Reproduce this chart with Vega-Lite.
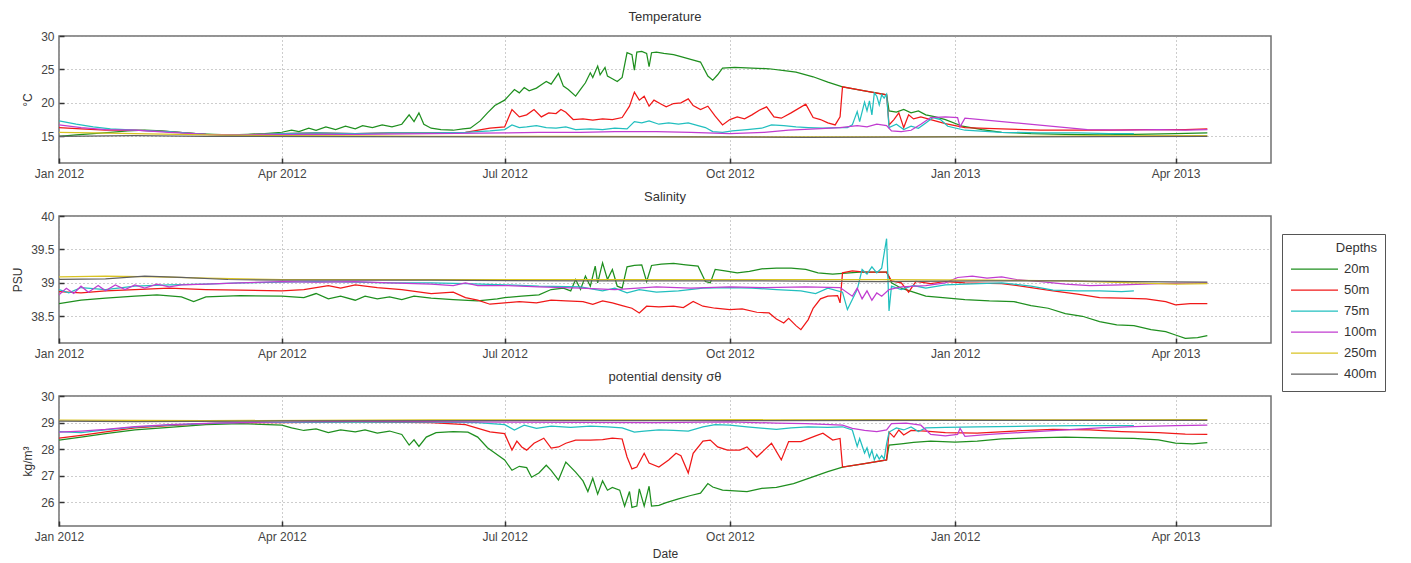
{
"$schema": "https://vega.github.io/schema/vega-lite/v6.json",
"background": "white",
"padding": {"left": 10, "top": 10, "right": 0, "bottom": 0},
"bounds": "flush",
"spacing": 53,
"resolve": {"scale": {"color": "independent"}},
"config": {
  "font": "Liberation Sans",
  "view": {"stroke": "#707070", "strokeWidth": 1.5},
  "axis": {"labelFont": "Liberation Sans", "labelFontSize": 12, "labelColor": "#444444", "titleFont": "Liberation Sans", "titleFontSize": 12, "titleFontWeight": "normal", "titleColor": "#333333", "grid": true, "gridColor": "#9a9a9a", "gridDash": [1, 3], "gridWidth": 1, "domain": false, "ticks": true, "tickSize": -5, "tickColor": "#333333", "tickWidth": 1.5, "labelPadding": 10, "titlePadding": 6},
  "title": {"fontSize": 13, "fontWeight": "normal", "color": "#333333", "font": "Liberation Sans", "offset": 6},
  "line": {"strokeWidth": 1.25}
},
"datasets": {
"T": [
{"t":"2012-01-01","z":"20m","v":15.0},{"t":"2012-01-08","z":"20m","v":15.2},{"t":"2012-01-15","z":"20m","v":15.4},{"t":"2012-01-22","z":"20m","v":15.6},{"t":"2012-01-29","z":"20m","v":15.8},{"t":"2012-02-05","z":"20m","v":15.9},{"t":"2012-02-12","z":"20m","v":15.8},{"t":"2012-02-19","z":"20m","v":15.6},{"t":"2012-02-26","z":"20m","v":15.4},{"t":"2012-03-04","z":"20m","v":15.3},{"t":"2012-03-11","z":"20m","v":15.2},{"t":"2012-03-18","z":"20m","v":15.3},{"t":"2012-03-25","z":"20m","v":15.4},{"t":"2012-04-01","z":"20m","v":15.6},{"t":"2012-04-05","z":"20m","v":15.9},{"t":"2012-04-08","z":"20m","v":15.7},{"t":"2012-04-12","z":"20m","v":16.2},{"t":"2012-04-15","z":"20m","v":15.9},{"t":"2012-04-19","z":"20m","v":16.4},{"t":"2012-04-23","z":"20m","v":16.0},{"t":"2012-04-27","z":"20m","v":16.5},{"t":"2012-05-01","z":"20m","v":16.1},{"t":"2012-05-04","z":"20m","v":16.6},{"t":"2012-05-08","z":"20m","v":16.3},{"t":"2012-05-12","z":"20m","v":16.7},{"t":"2012-05-16","z":"20m","v":16.4},{"t":"2012-05-20","z":"20m","v":16.8},{"t":"2012-05-23","z":"20m","v":18.2},{"t":"2012-05-25","z":"20m","v":17.2},{"t":"2012-05-27","z":"20m","v":18.5},{"t":"2012-05-29","z":"20m","v":16.8},{"t":"2012-06-01","z":"20m","v":16.2},{"t":"2012-06-05","z":"20m","v":16.0},{"t":"2012-06-10","z":"20m","v":15.9},{"t":"2012-06-14","z":"20m","v":16.1},{"t":"2012-06-17","z":"20m","v":16.2},{"t":"2012-06-21","z":"20m","v":17.3},{"t":"2012-06-24","z":"20m","v":18.5},{"t":"2012-06-27","z":"20m","v":19.6},{"t":"2012-07-01","z":"20m","v":20.4},{"t":"2012-07-03","z":"20m","v":21.2},{"t":"2012-07-05","z":"20m","v":22.0},{"t":"2012-07-07","z":"20m","v":21.5},{"t":"2012-07-09","z":"20m","v":22.3},{"t":"2012-07-11","z":"20m","v":21.8},{"t":"2012-07-14","z":"20m","v":22.2},{"t":"2012-07-16","z":"20m","v":22.7},{"t":"2012-07-18","z":"20m","v":23.2},{"t":"2012-07-20","z":"20m","v":22.8},{"t":"2012-07-23","z":"20m","v":24.4},{"t":"2012-07-25","z":"20m","v":22.5},{"t":"2012-07-27","z":"20m","v":22.0},{"t":"2012-07-30","z":"20m","v":21.0},{"t":"2012-08-01","z":"20m","v":22.0},{"t":"2012-08-03","z":"20m","v":23.0},{"t":"2012-08-05","z":"20m","v":24.5},{"t":"2012-08-06","z":"20m","v":23.8},{"t":"2012-08-08","z":"20m","v":25.5},{"t":"2012-08-09","z":"20m","v":24.2},{"t":"2012-08-11","z":"20m","v":25.3},{"t":"2012-08-12","z":"20m","v":24.0},{"t":"2012-08-14","z":"20m","v":23.6},{"t":"2012-08-16","z":"20m","v":23.2},{"t":"2012-08-18","z":"20m","v":23.8},{"t":"2012-08-20","z":"20m","v":27.5},{"t":"2012-08-22","z":"20m","v":27.2},{"t":"2012-08-23","z":"20m","v":24.9},{"t":"2012-08-24","z":"20m","v":27.6},{"t":"2012-08-26","z":"20m","v":27.7},{"t":"2012-08-28","z":"20m","v":27.4},{"t":"2012-08-29","z":"20m","v":25.4},{"t":"2012-08-30","z":"20m","v":27.5},{"t":"2012-09-01","z":"20m","v":27.6},{"t":"2012-09-04","z":"20m","v":27.4},{"t":"2012-09-08","z":"20m","v":27.2},{"t":"2012-09-11","z":"20m","v":26.9},{"t":"2012-09-15","z":"20m","v":26.5},{"t":"2012-09-19","z":"20m","v":26.1},{"t":"2012-09-22","z":"20m","v":24.0},{"t":"2012-09-24","z":"20m","v":23.4},{"t":"2012-09-26","z":"20m","v":24.2},{"t":"2012-09-28","z":"20m","v":25.2},{"t":"2012-10-03","z":"20m","v":25.3},{"t":"2012-10-10","z":"20m","v":25.2},{"t":"2012-10-17","z":"20m","v":25.1},{"t":"2012-10-24","z":"20m","v":24.8},{"t":"2012-10-28","z":"20m","v":24.6},{"t":"2012-11-04","z":"20m","v":23.9},{"t":"2012-11-10","z":"20m","v":23.1},{"t":"2012-11-16","z":"20m","v":22.4},{"t":"2012-11-25","z":"20m","v":21.8},{"t":"2012-12-04","z":"20m","v":21.2},{"t":"2012-12-05","z":"20m","v":18.8},{"t":"2012-12-08","z":"20m","v":18.6},{"t":"2012-12-11","z":"20m","v":19.0},{"t":"2012-12-14","z":"20m","v":18.5},{"t":"2012-12-17","z":"20m","v":18.8},{"t":"2012-12-20","z":"20m","v":18.2},{"t":"2012-12-24","z":"20m","v":17.9},{"t":"2012-12-28","z":"20m","v":17.5},{"t":"2013-01-04","z":"20m","v":16.5},{"t":"2013-01-12","z":"20m","v":16.0},{"t":"2013-01-20","z":"20m","v":15.6},{"t":"2013-02-01","z":"20m","v":15.4},{"t":"2013-02-15","z":"20m","v":15.3},{"t":"2013-03-01","z":"20m","v":15.2},{"t":"2013-03-15","z":"20m","v":15.3},{"t":"2013-04-01","z":"20m","v":15.4},{"t":"2013-04-14","z":"20m","v":15.5},
{"t":"2012-01-01","z":"50m","v":16.3},{"t":"2012-01-10","z":"50m","v":16.1},{"t":"2012-01-20","z":"50m","v":15.9},{"t":"2012-02-01","z":"50m","v":15.9},{"t":"2012-02-15","z":"50m","v":15.7},{"t":"2012-03-01","z":"50m","v":15.3},{"t":"2012-03-15","z":"50m","v":15.2},{"t":"2012-04-01","z":"50m","v":15.4},{"t":"2012-04-15","z":"50m","v":15.5},{"t":"2012-05-01","z":"50m","v":15.4},{"t":"2012-05-15","z":"50m","v":15.5},{"t":"2012-06-01","z":"50m","v":15.5},{"t":"2012-06-15","z":"50m","v":15.6},{"t":"2012-06-25","z":"50m","v":16.2},{"t":"2012-07-01","z":"50m","v":16.4},{"t":"2012-07-04","z":"50m","v":19.0},{"t":"2012-07-07","z":"50m","v":17.9},{"t":"2012-07-10","z":"50m","v":18.2},{"t":"2012-07-13","z":"50m","v":19.0},{"t":"2012-07-16","z":"50m","v":17.9},{"t":"2012-07-19","z":"50m","v":18.5},{"t":"2012-07-22","z":"50m","v":18.4},{"t":"2012-07-24","z":"50m","v":19.0},{"t":"2012-07-26","z":"50m","v":18.6},{"t":"2012-07-29","z":"50m","v":17.5},{"t":"2012-08-02","z":"50m","v":17.6},{"t":"2012-08-06","z":"50m","v":17.4},{"t":"2012-08-10","z":"50m","v":17.6},{"t":"2012-08-14","z":"50m","v":17.5},{"t":"2012-08-18","z":"50m","v":17.8},{"t":"2012-08-21","z":"50m","v":19.5},{"t":"2012-08-23","z":"50m","v":21.6},{"t":"2012-08-25","z":"50m","v":20.4},{"t":"2012-08-27","z":"50m","v":21.0},{"t":"2012-08-29","z":"50m","v":19.5},{"t":"2012-08-31","z":"50m","v":20.4},{"t":"2012-09-03","z":"50m","v":19.8},{"t":"2012-09-05","z":"50m","v":19.4},{"t":"2012-09-08","z":"50m","v":19.9},{"t":"2012-09-11","z":"50m","v":20.0},{"t":"2012-09-14","z":"50m","v":20.6},{"t":"2012-09-16","z":"50m","v":19.6},{"t":"2012-09-19","z":"50m","v":19.0},{"t":"2012-09-22","z":"50m","v":19.5},{"t":"2012-09-25","z":"50m","v":18.0},{"t":"2012-09-28","z":"50m","v":16.7},{"t":"2012-10-01","z":"50m","v":17.5},{"t":"2012-10-04","z":"50m","v":17.9},{"t":"2012-10-07","z":"50m","v":17.6},{"t":"2012-10-10","z":"50m","v":18.2},{"t":"2012-10-13","z":"50m","v":18.9},{"t":"2012-10-16","z":"50m","v":19.4},{"t":"2012-10-19","z":"50m","v":17.9},{"t":"2012-10-22","z":"50m","v":17.7},{"t":"2012-10-26","z":"50m","v":18.5},{"t":"2012-11-01","z":"50m","v":19.8},{"t":"2012-11-04","z":"50m","v":17.8},{"t":"2012-11-07","z":"50m","v":17.5},{"t":"2012-11-10","z":"50m","v":17.0},{"t":"2012-11-13","z":"50m","v":16.7},{"t":"2012-11-15","z":"50m","v":17.9},{"t":"2012-11-16","z":"50m","v":22.4},{"t":"2012-11-25","z":"50m","v":21.8},{"t":"2012-12-04","z":"50m","v":21.2},{"t":"2012-12-05","z":"50m","v":16.7},{"t":"2012-12-07","z":"50m","v":17.5},{"t":"2012-12-09","z":"50m","v":18.5},{"t":"2012-12-11","z":"50m","v":16.3},{"t":"2012-12-13","z":"50m","v":18.2},{"t":"2012-12-15","z":"50m","v":17.6},{"t":"2012-12-18","z":"50m","v":17.9},{"t":"2012-12-22","z":"50m","v":17.5},{"t":"2012-12-28","z":"50m","v":16.9},{"t":"2013-01-05","z":"50m","v":16.3},{"t":"2013-01-20","z":"50m","v":16.1},{"t":"2013-02-05","z":"50m","v":15.9},{"t":"2013-02-20","z":"50m","v":15.9},{"t":"2013-03-05","z":"50m","v":15.9},{"t":"2013-03-20","z":"50m","v":16.0},{"t":"2013-04-05","z":"50m","v":16.0},{"t":"2013-04-14","z":"50m","v":16.1},
{"t":"2012-01-01","z":"75m","v":17.3},{"t":"2012-01-08","z":"75m","v":16.8},{"t":"2012-01-15","z":"75m","v":16.4},{"t":"2012-01-22","z":"75m","v":16.1},{"t":"2012-02-01","z":"75m","v":15.9},{"t":"2012-02-15","z":"75m","v":15.7},{"t":"2012-03-01","z":"75m","v":15.3},{"t":"2012-03-15","z":"75m","v":15.2},{"t":"2012-04-01","z":"75m","v":15.4},{"t":"2012-04-15","z":"75m","v":15.5},{"t":"2012-05-01","z":"75m","v":15.4},{"t":"2012-05-15","z":"75m","v":15.5},{"t":"2012-06-01","z":"75m","v":15.5},{"t":"2012-06-15","z":"75m","v":15.6},{"t":"2012-06-25","z":"75m","v":15.8},{"t":"2012-07-01","z":"75m","v":16.0},{"t":"2012-07-04","z":"75m","v":16.7},{"t":"2012-07-07","z":"75m","v":16.3},{"t":"2012-07-10","z":"75m","v":16.4},{"t":"2012-07-14","z":"75m","v":16.6},{"t":"2012-07-18","z":"75m","v":16.3},{"t":"2012-07-22","z":"75m","v":16.2},{"t":"2012-07-26","z":"75m","v":16.4},{"t":"2012-07-30","z":"75m","v":16.0},{"t":"2012-08-05","z":"75m","v":16.1},{"t":"2012-08-10","z":"75m","v":16.0},{"t":"2012-08-15","z":"75m","v":16.2},{"t":"2012-08-20","z":"75m","v":16.1},{"t":"2012-08-23","z":"75m","v":17.2},{"t":"2012-08-26","z":"75m","v":17.0},{"t":"2012-08-29","z":"75m","v":17.3},{"t":"2012-09-02","z":"75m","v":16.8},{"t":"2012-09-06","z":"75m","v":17.0},{"t":"2012-09-10","z":"75m","v":16.8},{"t":"2012-09-14","z":"75m","v":17.0},{"t":"2012-09-18","z":"75m","v":16.6},{"t":"2012-09-21","z":"75m","v":16.3},{"t":"2012-09-24","z":"75m","v":15.7},{"t":"2012-09-28","z":"75m","v":15.6},{"t":"2012-10-02","z":"75m","v":15.8},{"t":"2012-10-08","z":"75m","v":16.0},{"t":"2012-10-14","z":"75m","v":16.2},{"t":"2012-10-18","z":"75m","v":16.7},{"t":"2012-10-23","z":"75m","v":16.6},{"t":"2012-10-28","z":"75m","v":16.4},{"t":"2012-11-02","z":"75m","v":16.3},{"t":"2012-11-08","z":"75m","v":16.2},{"t":"2012-11-14","z":"75m","v":16.3},{"t":"2012-11-18","z":"75m","v":16.3},{"t":"2012-11-20","z":"75m","v":16.7},{"t":"2012-11-22","z":"75m","v":18.7},{"t":"2012-11-23","z":"75m","v":17.2},{"t":"2012-11-25","z":"75m","v":20.1},{"t":"2012-11-26","z":"75m","v":18.8},{"t":"2012-11-27","z":"75m","v":20.3},{"t":"2012-11-28","z":"75m","v":18.2},{"t":"2012-11-29","z":"75m","v":21.5},{"t":"2012-11-30","z":"75m","v":21.0},{"t":"2012-12-01","z":"75m","v":19.7},{"t":"2012-12-02","z":"75m","v":21.2},{"t":"2012-12-03","z":"75m","v":20.7},{"t":"2012-12-04","z":"75m","v":21.3},{"t":"2012-12-05","z":"75m","v":16.3},{"t":"2012-12-08","z":"75m","v":16.8},{"t":"2012-12-11","z":"75m","v":16.0},{"t":"2012-12-14","z":"75m","v":16.5},{"t":"2012-12-17","z":"75m","v":16.2},{"t":"2012-12-20","z":"75m","v":17.0},{"t":"2012-12-23","z":"75m","v":17.8},{"t":"2012-12-26","z":"75m","v":17.5},{"t":"2012-12-29","z":"75m","v":16.5},{"t":"2013-01-05","z":"75m","v":15.9},{"t":"2013-01-20","z":"75m","v":15.6},{"t":"2013-02-05","z":"75m","v":15.5},{"t":"2013-02-20","z":"75m","v":15.5},{"t":"2013-03-05","z":"75m","v":15.4},{"t":"2013-03-15","z":"75m","v":15.4},
{"t":"2012-01-01","z":"100m","v":16.7},{"t":"2012-01-10","z":"100m","v":16.3},{"t":"2012-01-20","z":"100m","v":16.0},{"t":"2012-02-01","z":"100m","v":15.9},{"t":"2012-02-15","z":"100m","v":15.6},{"t":"2012-03-01","z":"100m","v":15.3},{"t":"2012-03-15","z":"100m","v":15.2},{"t":"2012-04-01","z":"100m","v":15.3},{"t":"2012-05-01","z":"100m","v":15.3},{"t":"2012-06-01","z":"100m","v":15.4},{"t":"2012-07-01","z":"100m","v":15.5},{"t":"2012-07-15","z":"100m","v":15.6},{"t":"2012-08-01","z":"100m","v":15.6},{"t":"2012-08-15","z":"100m","v":15.7},{"t":"2012-09-01","z":"100m","v":15.7},{"t":"2012-09-15","z":"100m","v":15.6},{"t":"2012-10-01","z":"100m","v":15.4},{"t":"2012-10-15","z":"100m","v":15.6},{"t":"2012-10-25","z":"100m","v":15.9},{"t":"2012-11-05","z":"100m","v":16.1},{"t":"2012-11-15","z":"100m","v":16.3},{"t":"2012-11-22","z":"100m","v":16.6},{"t":"2012-11-26","z":"100m","v":16.4},{"t":"2012-11-30","z":"100m","v":16.8},{"t":"2012-12-04","z":"100m","v":16.6},{"t":"2012-12-06","z":"100m","v":15.8},{"t":"2012-12-10","z":"100m","v":15.7},{"t":"2012-12-14","z":"100m","v":15.9},{"t":"2012-12-18","z":"100m","v":16.8},{"t":"2012-12-22","z":"100m","v":17.8},{"t":"2012-12-28","z":"100m","v":17.9},{"t":"2013-01-02","z":"100m","v":17.8},{"t":"2013-01-03","z":"100m","v":16.4},{"t":"2013-01-05","z":"100m","v":17.7},{"t":"2013-02-24","z":"100m","v":16.0},{"t":"2013-03-10","z":"100m","v":15.9},{"t":"2013-03-25","z":"100m","v":16.0},{"t":"2013-04-05","z":"100m","v":15.9},{"t":"2013-04-14","z":"100m","v":16.0},
{"t":"2012-01-01","z":"250m","v":15.6},{"t":"2012-01-15","z":"250m","v":15.5},{"t":"2012-02-01","z":"250m","v":15.4},{"t":"2012-03-01","z":"250m","v":15.2},{"t":"2012-04-01","z":"250m","v":15.1},{"t":"2012-05-01","z":"250m","v":15.05},{"t":"2012-06-01","z":"250m","v":15.0},{"t":"2012-08-01","z":"250m","v":15.0},{"t":"2012-10-01","z":"250m","v":14.9},{"t":"2012-12-01","z":"250m","v":14.9},{"t":"2013-02-01","z":"250m","v":15.0},{"t":"2013-03-01","z":"250m","v":15.05},{"t":"2013-04-14","z":"250m","v":15.1},
{"t":"2012-01-01","z":"400m","v":15.0},{"t":"2012-02-01","z":"400m","v":15.1},{"t":"2012-03-01","z":"400m","v":15.0},{"t":"2012-05-01","z":"400m","v":14.95},{"t":"2012-07-01","z":"400m","v":14.9},{"t":"2012-09-01","z":"400m","v":14.9},{"t":"2012-11-01","z":"400m","v":14.85},{"t":"2013-01-01","z":"400m","v":14.9},{"t":"2013-03-01","z":"400m","v":14.95},{"t":"2013-04-14","z":"400m","v":15.0}
],
"S": [
{"t":"2012-01-01","z":"20m","v":38.69},{"t":"2012-01-10","z":"20m","v":38.74},{"t":"2012-01-20","z":"20m","v":38.77},{"t":"2012-02-01","z":"20m","v":38.80},{"t":"2012-02-10","z":"20m","v":38.82},{"t":"2012-02-20","z":"20m","v":38.79},{"t":"2012-02-25","z":"20m","v":38.72},{"t":"2012-03-01","z":"20m","v":38.79},{"t":"2012-03-15","z":"20m","v":38.81},{"t":"2012-04-01","z":"20m","v":38.80},{"t":"2012-04-10","z":"20m","v":38.78},{"t":"2012-04-15","z":"20m","v":38.84},{"t":"2012-04-20","z":"20m","v":38.76},{"t":"2012-04-25","z":"20m","v":38.80},{"t":"2012-05-01","z":"20m","v":38.74},{"t":"2012-05-05","z":"20m","v":38.80},{"t":"2012-05-10","z":"20m","v":38.76},{"t":"2012-05-15","z":"20m","v":38.79},{"t":"2012-05-20","z":"20m","v":38.75},{"t":"2012-05-25","z":"20m","v":38.80},{"t":"2012-06-01","z":"20m","v":38.77},{"t":"2012-06-10","z":"20m","v":38.75},{"t":"2012-06-20","z":"20m","v":38.73},{"t":"2012-06-28","z":"20m","v":38.76},{"t":"2012-07-01","z":"20m","v":38.78},{"t":"2012-07-08","z":"20m","v":38.80},{"t":"2012-07-15","z":"20m","v":38.82},{"t":"2012-07-20","z":"20m","v":38.90},{"t":"2012-07-25","z":"20m","v":38.92},{"t":"2012-07-28","z":"20m","v":38.88},{"t":"2012-07-30","z":"20m","v":39.05},{"t":"2012-08-01","z":"20m","v":38.90},{"t":"2012-08-03","z":"20m","v":39.10},{"t":"2012-08-05","z":"20m","v":38.95},{"t":"2012-08-07","z":"20m","v":39.25},{"t":"2012-08-08","z":"20m","v":39.00},{"t":"2012-08-10","z":"20m","v":39.30},{"t":"2012-08-12","z":"20m","v":39.05},{"t":"2012-08-14","z":"20m","v":39.20},{"t":"2012-08-16","z":"20m","v":38.95},{"t":"2012-08-18","z":"20m","v":38.92},{"t":"2012-08-20","z":"20m","v":39.24},{"t":"2012-08-23","z":"20m","v":39.26},{"t":"2012-08-26","z":"20m","v":39.27},{"t":"2012-08-28","z":"20m","v":39.02},{"t":"2012-08-30","z":"20m","v":39.26},{"t":"2012-09-03","z":"20m","v":39.28},{"t":"2012-09-08","z":"20m","v":39.29},{"t":"2012-09-13","z":"20m","v":39.27},{"t":"2012-09-18","z":"20m","v":39.25},{"t":"2012-09-21","z":"20m","v":39.02},{"t":"2012-09-23","z":"20m","v":39.00},{"t":"2012-09-25","z":"20m","v":39.20},{"t":"2012-09-29","z":"20m","v":39.18},{"t":"2012-10-04","z":"20m","v":39.15},{"t":"2012-10-09","z":"20m","v":39.17},{"t":"2012-10-14","z":"20m","v":39.21},{"t":"2012-10-20","z":"20m","v":39.22},{"t":"2012-10-26","z":"20m","v":39.22},{"t":"2012-11-01","z":"20m","v":39.20},{"t":"2012-11-06","z":"20m","v":39.15},{"t":"2012-11-12","z":"20m","v":39.13},{"t":"2012-11-16","z":"20m","v":39.14},{"t":"2012-11-23","z":"20m","v":39.16},{"t":"2012-12-04","z":"20m","v":39.16},{"t":"2012-12-06","z":"20m","v":39.00},{"t":"2012-12-10","z":"20m","v":38.92},{"t":"2012-12-15","z":"20m","v":38.86},{"t":"2012-12-20","z":"20m","v":38.80},{"t":"2012-12-27","z":"20m","v":38.78},{"t":"2013-01-05","z":"20m","v":38.75},{"t":"2013-01-15","z":"20m","v":38.73},{"t":"2013-01-25","z":"20m","v":38.72},{"t":"2013-02-01","z":"20m","v":38.66},{"t":"2013-02-08","z":"20m","v":38.62},{"t":"2013-02-15","z":"20m","v":38.54},{"t":"2013-02-22","z":"20m","v":38.50},{"t":"2013-03-01","z":"20m","v":38.42},{"t":"2013-03-08","z":"20m","v":38.37},{"t":"2013-03-15","z":"20m","v":38.36},{"t":"2013-03-22","z":"20m","v":38.30},{"t":"2013-03-28","z":"20m","v":38.27},{"t":"2013-04-01","z":"20m","v":38.22},{"t":"2013-04-05","z":"20m","v":38.17},{"t":"2013-04-10","z":"20m","v":38.18},{"t":"2013-04-14","z":"20m","v":38.21},
{"t":"2012-01-01","z":"50m","v":38.87},{"t":"2012-01-10","z":"50m","v":38.85},{"t":"2012-01-20","z":"50m","v":38.88},{"t":"2012-02-01","z":"50m","v":38.90},{"t":"2012-02-15","z":"50m","v":38.92},{"t":"2012-03-01","z":"50m","v":38.90},{"t":"2012-03-15","z":"50m","v":38.89},{"t":"2012-04-01","z":"50m","v":38.88},{"t":"2012-04-10","z":"50m","v":38.90},{"t":"2012-04-20","z":"50m","v":38.96},{"t":"2012-04-25","z":"50m","v":38.92},{"t":"2012-05-01","z":"50m","v":38.97},{"t":"2012-05-10","z":"50m","v":38.93},{"t":"2012-05-20","z":"50m","v":38.90},{"t":"2012-06-01","z":"50m","v":38.84},{"t":"2012-06-10","z":"50m","v":38.86},{"t":"2012-06-15","z":"50m","v":38.78},{"t":"2012-06-20","z":"50m","v":38.74},{"t":"2012-06-25","z":"50m","v":38.68},{"t":"2012-07-01","z":"50m","v":38.70},{"t":"2012-07-07","z":"50m","v":38.72},{"t":"2012-07-14","z":"50m","v":38.70},{"t":"2012-07-20","z":"50m","v":38.74},{"t":"2012-07-26","z":"50m","v":38.73},{"t":"2012-08-02","z":"50m","v":38.72},{"t":"2012-08-06","z":"50m","v":38.68},{"t":"2012-08-10","z":"50m","v":38.73},{"t":"2012-08-14","z":"50m","v":38.70},{"t":"2012-08-18","z":"50m","v":38.66},{"t":"2012-08-22","z":"50m","v":38.62},{"t":"2012-08-25","z":"50m","v":38.55},{"t":"2012-08-28","z":"50m","v":38.65},{"t":"2012-09-02","z":"50m","v":38.64},{"t":"2012-09-08","z":"50m","v":38.65},{"t":"2012-09-12","z":"50m","v":38.63},{"t":"2012-09-16","z":"50m","v":38.72},{"t":"2012-09-20","z":"50m","v":38.65},{"t":"2012-09-25","z":"50m","v":38.62},{"t":"2012-10-01","z":"50m","v":38.60},{"t":"2012-10-06","z":"50m","v":38.61},{"t":"2012-10-12","z":"50m","v":38.56},{"t":"2012-10-17","z":"50m","v":38.55},{"t":"2012-10-20","z":"50m","v":38.46},{"t":"2012-10-23","z":"50m","v":38.40},{"t":"2012-10-25","z":"50m","v":38.47},{"t":"2012-10-28","z":"50m","v":38.36},{"t":"2012-10-30","z":"50m","v":38.30},{"t":"2012-11-02","z":"50m","v":38.45},{"t":"2012-11-04","z":"50m","v":38.62},{"t":"2012-11-07","z":"50m","v":38.76},{"t":"2012-11-10","z":"50m","v":38.80},{"t":"2012-11-14","z":"50m","v":38.81},{"t":"2012-11-15","z":"50m","v":38.70},{"t":"2012-11-16","z":"50m","v":39.15},{"t":"2012-11-20","z":"50m","v":39.18},{"t":"2012-11-25","z":"50m","v":39.16},{"t":"2012-12-04","z":"50m","v":39.16},{"t":"2012-12-06","z":"50m","v":39.03},{"t":"2012-12-10","z":"50m","v":39.00},{"t":"2012-12-13","z":"50m","v":38.86},{"t":"2012-12-16","z":"50m","v":39.02},{"t":"2012-12-22","z":"50m","v":38.99},{"t":"2012-12-28","z":"50m","v":39.02},{"t":"2013-01-05","z":"50m","v":39.00},{"t":"2013-01-20","z":"50m","v":38.99},{"t":"2013-02-01","z":"50m","v":38.93},{"t":"2013-02-10","z":"50m","v":38.88},{"t":"2013-02-20","z":"50m","v":38.83},{"t":"2013-03-01","z":"50m","v":38.78},{"t":"2013-03-10","z":"50m","v":38.77},{"t":"2013-03-20","z":"50m","v":38.76},{"t":"2013-03-28","z":"50m","v":38.72},{"t":"2013-04-01","z":"50m","v":38.67},{"t":"2013-04-07","z":"50m","v":38.69},{"t":"2013-04-14","z":"50m","v":38.69},
{"t":"2012-01-01","z":"75m","v":38.90},{"t":"2012-01-05","z":"75m","v":38.85},{"t":"2012-01-10","z":"75m","v":38.93},{"t":"2012-01-20","z":"75m","v":38.90},{"t":"2012-02-01","z":"75m","v":38.95},{"t":"2012-02-15","z":"75m","v":38.97},{"t":"2012-03-01","z":"75m","v":38.98},{"t":"2012-03-15","z":"75m","v":39.00},{"t":"2012-04-01","z":"75m","v":39.01},{"t":"2012-04-15","z":"75m","v":39.02},{"t":"2012-05-01","z":"75m","v":39.01},{"t":"2012-05-15","z":"75m","v":39.00},{"t":"2012-06-01","z":"75m","v":39.00},{"t":"2012-06-15","z":"75m","v":38.99},{"t":"2012-07-01","z":"75m","v":38.97},{"t":"2012-07-15","z":"75m","v":38.95},{"t":"2012-08-01","z":"75m","v":38.94},{"t":"2012-08-10","z":"75m","v":38.88},{"t":"2012-08-15","z":"75m","v":38.92},{"t":"2012-08-20","z":"75m","v":38.85},{"t":"2012-08-25","z":"75m","v":38.90},{"t":"2012-09-01","z":"75m","v":38.86},{"t":"2012-09-10","z":"75m","v":38.88},{"t":"2012-09-20","z":"75m","v":38.92},{"t":"2012-10-01","z":"75m","v":38.93},{"t":"2012-10-10","z":"75m","v":38.92},{"t":"2012-10-20","z":"75m","v":38.90},{"t":"2012-10-30","z":"75m","v":38.88},{"t":"2012-11-05","z":"75m","v":38.84},{"t":"2012-11-10","z":"75m","v":38.92},{"t":"2012-11-16","z":"75m","v":38.86},{"t":"2012-11-18","z":"75m","v":38.60},{"t":"2012-11-20","z":"75m","v":38.75},{"t":"2012-11-22","z":"75m","v":38.90},{"t":"2012-11-24","z":"75m","v":39.20},{"t":"2012-11-26","z":"75m","v":39.13},{"t":"2012-11-28","z":"75m","v":39.24},{"t":"2012-11-30","z":"75m","v":39.15},{"t":"2012-12-02","z":"75m","v":39.22},{"t":"2012-12-04","z":"75m","v":39.66},{"t":"2012-12-05","z":"75m","v":38.58},{"t":"2012-12-06","z":"75m","v":38.95},{"t":"2012-12-10","z":"75m","v":38.90},{"t":"2012-12-15","z":"75m","v":38.96},{"t":"2012-12-20","z":"75m","v":38.92},{"t":"2012-12-28","z":"75m","v":38.97},{"t":"2013-01-05","z":"75m","v":38.98},{"t":"2013-01-20","z":"75m","v":39.00},{"t":"2013-02-01","z":"75m","v":38.95},{"t":"2013-02-10","z":"75m","v":38.89},{"t":"2013-02-20","z":"75m","v":38.88},{"t":"2013-03-01","z":"75m","v":38.88},{"t":"2013-03-10","z":"75m","v":38.87},{"t":"2013-03-15","z":"75m","v":38.88},
{"t":"2012-01-01","z":"100m","v":38.82},{"t":"2012-01-04","z":"100m","v":38.92},{"t":"2012-01-07","z":"100m","v":38.84},{"t":"2012-01-10","z":"100m","v":38.95},{"t":"2012-01-13","z":"100m","v":38.86},{"t":"2012-01-17","z":"100m","v":38.96},{"t":"2012-01-20","z":"100m","v":38.88},{"t":"2012-01-24","z":"100m","v":38.97},{"t":"2012-01-28","z":"100m","v":38.90},{"t":"2012-02-01","z":"100m","v":38.97},{"t":"2012-02-05","z":"100m","v":38.92},{"t":"2012-02-10","z":"100m","v":38.98},{"t":"2012-02-15","z":"100m","v":38.94},{"t":"2012-02-20","z":"100m","v":38.97},{"t":"2012-03-01","z":"100m","v":38.98},{"t":"2012-03-15","z":"100m","v":39.00},{"t":"2012-04-01","z":"100m","v":39.02},{"t":"2012-04-15","z":"100m","v":39.01},{"t":"2012-05-01","z":"100m","v":39.02},{"t":"2012-05-15","z":"100m","v":39.00},{"t":"2012-06-01","z":"100m","v":38.98},{"t":"2012-06-10","z":"100m","v":38.96},{"t":"2012-06-15","z":"100m","v":39.00},{"t":"2012-06-20","z":"100m","v":38.96},{"t":"2012-07-01","z":"100m","v":38.96},{"t":"2012-07-15","z":"100m","v":38.94},{"t":"2012-08-01","z":"100m","v":38.92},{"t":"2012-08-15","z":"100m","v":38.90},{"t":"2012-09-01","z":"100m","v":38.94},{"t":"2012-09-15","z":"100m","v":38.92},{"t":"2012-10-01","z":"100m","v":38.94},{"t":"2012-10-15","z":"100m","v":38.93},{"t":"2012-11-01","z":"100m","v":38.94},{"t":"2012-11-15","z":"100m","v":38.93},{"t":"2012-11-20","z":"100m","v":38.80},{"t":"2012-11-22","z":"100m","v":38.92},{"t":"2012-11-24","z":"100m","v":38.76},{"t":"2012-11-26","z":"100m","v":38.88},{"t":"2012-11-28","z":"100m","v":38.74},{"t":"2012-11-30","z":"100m","v":38.85},{"t":"2012-12-02","z":"100m","v":38.80},{"t":"2012-12-05","z":"100m","v":38.90},{"t":"2012-12-10","z":"100m","v":38.94},{"t":"2012-12-20","z":"100m","v":38.96},{"t":"2012-12-28","z":"100m","v":39.00},{"t":"2013-01-02","z":"100m","v":39.08},{"t":"2013-01-08","z":"100m","v":39.10},{"t":"2013-01-14","z":"100m","v":39.07},{"t":"2013-01-20","z":"100m","v":39.09},{"t":"2013-01-26","z":"100m","v":39.05},{"t":"2013-02-05","z":"100m","v":39.02},{"t":"2013-02-15","z":"100m","v":38.98},{"t":"2013-02-25","z":"100m","v":38.96},{"t":"2013-03-10","z":"100m","v":38.97},{"t":"2013-03-25","z":"100m","v":38.99},{"t":"2013-04-14","z":"100m","v":39.00},
{"t":"2012-01-01","z":"250m","v":39.09},{"t":"2012-01-20","z":"250m","v":39.10},{"t":"2012-02-10","z":"250m","v":39.09},{"t":"2012-03-01","z":"250m","v":39.07},{"t":"2012-04-01","z":"250m","v":39.05},{"t":"2012-06-01","z":"250m","v":39.05},{"t":"2012-08-01","z":"250m","v":39.05},{"t":"2012-10-01","z":"250m","v":39.05},{"t":"2012-12-01","z":"250m","v":39.05},{"t":"2013-01-15","z":"250m","v":39.04},{"t":"2013-02-15","z":"250m","v":39.03},{"t":"2013-03-15","z":"250m","v":39.00},{"t":"2013-04-01","z":"250m","v":38.98},{"t":"2013-04-14","z":"250m","v":38.99},
{"t":"2012-01-01","z":"400m","v":39.05},{"t":"2012-01-20","z":"400m","v":39.06},{"t":"2012-02-05","z":"400m","v":39.10},{"t":"2012-02-20","z":"400m","v":39.08},{"t":"2012-03-10","z":"400m","v":39.05},{"t":"2012-04-01","z":"400m","v":39.04},{"t":"2012-06-01","z":"400m","v":39.04},{"t":"2012-08-01","z":"400m","v":39.03},{"t":"2012-10-01","z":"400m","v":39.03},{"t":"2012-12-01","z":"400m","v":39.02},{"t":"2013-01-15","z":"400m","v":39.03},{"t":"2013-02-15","z":"400m","v":39.03},{"t":"2013-03-15","z":"400m","v":39.02},{"t":"2013-04-14","z":"400m","v":39.01}
],
"D": [
{"t":"2012-01-01","z":"20m","v":28.34},{"t":"2012-01-10","z":"20m","v":28.45},{"t":"2012-01-20","z":"20m","v":28.58},{"t":"2012-02-01","z":"20m","v":28.72},{"t":"2012-02-15","z":"20m","v":28.82},{"t":"2012-03-01","z":"20m","v":28.92},{"t":"2012-03-15","z":"20m","v":28.96},{"t":"2012-04-01","z":"20m","v":28.90},{"t":"2012-04-05","z":"20m","v":28.80},{"t":"2012-04-10","z":"20m","v":28.70},{"t":"2012-04-15","z":"20m","v":28.76},{"t":"2012-04-20","z":"20m","v":28.62},{"t":"2012-04-25","z":"20m","v":28.72},{"t":"2012-05-01","z":"20m","v":28.65},{"t":"2012-05-05","z":"20m","v":28.72},{"t":"2012-05-10","z":"20m","v":28.60},{"t":"2012-05-15","z":"20m","v":28.68},{"t":"2012-05-20","z":"20m","v":28.55},{"t":"2012-05-23","z":"20m","v":28.15},{"t":"2012-05-25","z":"20m","v":28.35},{"t":"2012-05-27","z":"20m","v":28.10},{"t":"2012-05-30","z":"20m","v":28.45},{"t":"2012-06-03","z":"20m","v":28.62},{"t":"2012-06-10","z":"20m","v":28.66},{"t":"2012-06-16","z":"20m","v":28.64},{"t":"2012-06-20","z":"20m","v":28.45},{"t":"2012-06-24","z":"20m","v":28.05},{"t":"2012-06-27","z":"20m","v":27.85},{"t":"2012-07-01","z":"20m","v":27.59},{"t":"2012-07-04","z":"20m","v":27.20},{"t":"2012-07-07","z":"20m","v":27.35},{"t":"2012-07-10","z":"20m","v":27.30},{"t":"2012-07-12","z":"20m","v":26.94},{"t":"2012-07-15","z":"20m","v":27.10},{"t":"2012-07-18","z":"20m","v":27.39},{"t":"2012-07-20","z":"20m","v":27.20},{"t":"2012-07-23","z":"20m","v":26.83},{"t":"2012-07-26","z":"20m","v":27.51},{"t":"2012-07-30","z":"20m","v":27.13},{"t":"2012-08-02","z":"20m","v":26.80},{"t":"2012-08-04","z":"20m","v":26.40},{"t":"2012-08-06","z":"20m","v":26.90},{"t":"2012-08-08","z":"20m","v":26.30},{"t":"2012-08-10","z":"20m","v":26.80},{"t":"2012-08-12","z":"20m","v":26.45},{"t":"2012-08-14","z":"20m","v":26.55},{"t":"2012-08-17","z":"20m","v":26.45},{"t":"2012-08-19","z":"20m","v":25.85},{"t":"2012-08-21","z":"20m","v":26.40},{"t":"2012-08-22","z":"20m","v":25.80},{"t":"2012-08-24","z":"20m","v":25.85},{"t":"2012-08-25","z":"20m","v":26.50},{"t":"2012-08-27","z":"20m","v":25.85},{"t":"2012-08-29","z":"20m","v":26.60},{"t":"2012-08-30","z":"20m","v":25.85},{"t":"2012-09-02","z":"20m","v":25.88},{"t":"2012-09-05","z":"20m","v":25.98},{"t":"2012-09-10","z":"20m","v":26.12},{"t":"2012-09-15","z":"20m","v":26.25},{"t":"2012-09-19","z":"20m","v":26.34},{"t":"2012-09-22","z":"20m","v":26.70},{"t":"2012-09-24","z":"20m","v":26.57},{"t":"2012-09-28","z":"20m","v":26.45},{"t":"2012-10-03","z":"20m","v":26.42},{"t":"2012-10-08","z":"20m","v":26.40},{"t":"2012-10-14","z":"20m","v":26.52},{"t":"2012-10-20","z":"20m","v":26.56},{"t":"2012-10-27","z":"20m","v":26.70},{"t":"2012-11-03","z":"20m","v":26.92},{"t":"2012-11-10","z":"20m","v":27.15},{"t":"2012-11-16","z":"20m","v":27.32},{"t":"2012-11-25","z":"20m","v":27.45},{"t":"2012-12-04","z":"20m","v":27.59},{"t":"2012-12-05","z":"20m","v":28.15},{"t":"2012-12-10","z":"20m","v":28.20},{"t":"2012-12-15","z":"20m","v":28.25},{"t":"2012-12-22","z":"20m","v":28.30},{"t":"2013-01-01","z":"20m","v":28.26},{"t":"2013-01-10","z":"20m","v":28.30},{"t":"2013-01-20","z":"20m","v":28.38},{"t":"2013-02-01","z":"20m","v":28.42},{"t":"2013-02-15","z":"20m","v":28.45},{"t":"2013-03-01","z":"20m","v":28.42},{"t":"2013-03-15","z":"20m","v":28.40},{"t":"2013-03-25","z":"20m","v":28.35},{"t":"2013-04-01","z":"20m","v":28.22},{"t":"2013-04-08","z":"20m","v":28.20},{"t":"2013-04-14","z":"20m","v":28.24},
{"t":"2012-01-01","z":"50m","v":28.41},{"t":"2012-01-10","z":"50m","v":28.52},{"t":"2012-01-20","z":"50m","v":28.65},{"t":"2012-02-01","z":"50m","v":28.80},{"t":"2012-02-15","z":"50m","v":28.88},{"t":"2012-03-01","z":"50m","v":28.96},{"t":"2012-03-15","z":"50m","v":29.00},{"t":"2012-04-01","z":"50m","v":29.00},{"t":"2012-05-01","z":"50m","v":29.02},{"t":"2012-06-01","z":"50m","v":29.00},{"t":"2012-06-15","z":"50m","v":28.92},{"t":"2012-06-25","z":"50m","v":28.65},{"t":"2012-07-01","z":"50m","v":28.58},{"t":"2012-07-04","z":"50m","v":27.96},{"t":"2012-07-06","z":"50m","v":28.30},{"t":"2012-07-08","z":"50m","v":28.08},{"t":"2012-07-10","z":"50m","v":27.96},{"t":"2012-07-13","z":"50m","v":28.22},{"t":"2012-07-17","z":"50m","v":28.41},{"t":"2012-07-20","z":"50m","v":28.04},{"t":"2012-07-23","z":"50m","v":28.08},{"t":"2012-07-26","z":"50m","v":28.22},{"t":"2012-07-30","z":"50m","v":28.34},{"t":"2012-08-05","z":"50m","v":28.34},{"t":"2012-08-10","z":"50m","v":28.36},{"t":"2012-08-14","z":"50m","v":28.41},{"t":"2012-08-18","z":"50m","v":28.38},{"t":"2012-08-20","z":"50m","v":27.70},{"t":"2012-08-22","z":"50m","v":27.25},{"t":"2012-08-24","z":"50m","v":27.32},{"t":"2012-08-27","z":"50m","v":27.84},{"t":"2012-08-29","z":"50m","v":27.47},{"t":"2012-09-02","z":"50m","v":27.32},{"t":"2012-09-06","z":"50m","v":27.59},{"t":"2012-09-09","z":"50m","v":27.84},{"t":"2012-09-11","z":"50m","v":27.75},{"t":"2012-09-14","z":"50m","v":27.10},{"t":"2012-09-16","z":"50m","v":27.84},{"t":"2012-09-20","z":"50m","v":28.30},{"t":"2012-09-23","z":"50m","v":28.34},{"t":"2012-09-26","z":"50m","v":28.08},{"t":"2012-09-30","z":"50m","v":27.96},{"t":"2012-10-05","z":"50m","v":27.96},{"t":"2012-10-08","z":"50m","v":28.08},{"t":"2012-10-12","z":"50m","v":27.70},{"t":"2012-10-15","z":"50m","v":27.96},{"t":"2012-10-18","z":"50m","v":28.22},{"t":"2012-10-22","z":"50m","v":27.59},{"t":"2012-10-25","z":"50m","v":28.28},{"t":"2012-10-30","z":"50m","v":28.28},{"t":"2012-11-05","z":"50m","v":28.50},{"t":"2012-11-08","z":"50m","v":28.60},{"t":"2012-11-12","z":"50m","v":28.34},{"t":"2012-11-15","z":"50m","v":28.40},{"t":"2012-11-16","z":"50m","v":27.32},{"t":"2012-11-25","z":"50m","v":27.45},{"t":"2012-12-04","z":"50m","v":27.59},{"t":"2012-12-05","z":"50m","v":28.64},{"t":"2012-12-07","z":"50m","v":28.45},{"t":"2012-12-09","z":"50m","v":28.72},{"t":"2012-12-11","z":"50m","v":28.53},{"t":"2012-12-14","z":"50m","v":28.70},{"t":"2012-12-20","z":"50m","v":28.68},{"t":"2012-12-28","z":"50m","v":28.62},{"t":"2013-01-10","z":"50m","v":28.60},{"t":"2013-01-25","z":"50m","v":28.68},{"t":"2013-02-10","z":"50m","v":28.74},{"t":"2013-02-25","z":"50m","v":28.72},{"t":"2013-03-10","z":"50m","v":28.66},{"t":"2013-03-25","z":"50m","v":28.62},{"t":"2013-04-05","z":"50m","v":28.56},{"t":"2013-04-14","z":"50m","v":28.55},
{"t":"2012-01-01","z":"75m","v":28.66},{"t":"2012-01-10","z":"75m","v":28.62},{"t":"2012-01-20","z":"75m","v":28.72},{"t":"2012-02-01","z":"75m","v":28.83},{"t":"2012-02-15","z":"75m","v":28.90},{"t":"2012-03-01","z":"75m","v":28.96},{"t":"2012-03-15","z":"75m","v":29.00},{"t":"2012-04-01","z":"75m","v":29.01},{"t":"2012-05-01","z":"75m","v":29.02},{"t":"2012-06-01","z":"75m","v":29.02},{"t":"2012-06-20","z":"75m","v":29.00},{"t":"2012-07-01","z":"75m","v":28.92},{"t":"2012-07-05","z":"75m","v":28.72},{"t":"2012-07-09","z":"75m","v":28.90},{"t":"2012-07-14","z":"75m","v":28.78},{"t":"2012-07-20","z":"75m","v":28.86},{"t":"2012-07-28","z":"75m","v":28.82},{"t":"2012-08-05","z":"75m","v":28.86},{"t":"2012-08-12","z":"75m","v":28.84},{"t":"2012-08-18","z":"75m","v":28.80},{"t":"2012-08-23","z":"75m","v":28.64},{"t":"2012-08-27","z":"75m","v":28.68},{"t":"2012-09-02","z":"75m","v":28.72},{"t":"2012-09-08","z":"75m","v":28.70},{"t":"2012-09-14","z":"75m","v":28.68},{"t":"2012-09-20","z":"75m","v":28.84},{"t":"2012-09-25","z":"75m","v":28.92},{"t":"2012-10-01","z":"75m","v":28.90},{"t":"2012-10-08","z":"75m","v":28.84},{"t":"2012-10-15","z":"75m","v":28.78},{"t":"2012-10-20","z":"75m","v":28.74},{"t":"2012-10-26","z":"75m","v":28.80},{"t":"2012-11-02","z":"75m","v":28.84},{"t":"2012-11-10","z":"75m","v":28.82},{"t":"2012-11-16","z":"75m","v":28.84},{"t":"2012-11-20","z":"75m","v":28.72},{"t":"2012-11-22","z":"75m","v":28.10},{"t":"2012-11-23","z":"75m","v":28.40},{"t":"2012-11-25","z":"75m","v":27.85},{"t":"2012-11-26","z":"75m","v":28.05},{"t":"2012-11-27","z":"75m","v":27.70},{"t":"2012-11-28","z":"75m","v":27.95},{"t":"2012-11-29","z":"75m","v":27.59},{"t":"2012-11-30","z":"75m","v":27.80},{"t":"2012-12-01","z":"75m","v":27.62},{"t":"2012-12-02","z":"75m","v":27.75},{"t":"2012-12-03","z":"75m","v":27.62},{"t":"2012-12-04","z":"75m","v":28.20},{"t":"2012-12-05","z":"75m","v":28.64},{"t":"2012-12-08","z":"75m","v":28.80},{"t":"2012-12-11","z":"75m","v":28.72},{"t":"2012-12-14","z":"75m","v":28.83},{"t":"2012-12-17","z":"75m","v":28.66},{"t":"2012-12-20","z":"75m","v":28.80},{"t":"2012-12-28","z":"75m","v":28.82},{"t":"2013-01-10","z":"75m","v":28.84},{"t":"2013-02-01","z":"75m","v":28.86},{"t":"2013-02-20","z":"75m","v":28.88},{"t":"2013-03-15","z":"75m","v":28.88},
{"t":"2012-01-01","z":"100m","v":28.64},{"t":"2012-01-10","z":"100m","v":28.68},{"t":"2012-01-20","z":"100m","v":28.74},{"t":"2012-02-01","z":"100m","v":28.85},{"t":"2012-02-15","z":"100m","v":28.92},{"t":"2012-03-01","z":"100m","v":28.97},{"t":"2012-03-15","z":"100m","v":29.00},{"t":"2012-04-01","z":"100m","v":29.02},{"t":"2012-05-01","z":"100m","v":29.04},{"t":"2012-06-01","z":"100m","v":29.03},{"t":"2012-07-01","z":"100m","v":29.02},{"t":"2012-08-01","z":"100m","v":29.01},{"t":"2012-09-01","z":"100m","v":29.00},{"t":"2012-10-01","z":"100m","v":29.02},{"t":"2012-10-20","z":"100m","v":28.98},{"t":"2012-11-01","z":"100m","v":28.96},{"t":"2012-11-16","z":"100m","v":28.90},{"t":"2012-11-20","z":"100m","v":28.78},{"t":"2012-11-25","z":"100m","v":28.70},{"t":"2012-11-30","z":"100m","v":28.66},{"t":"2012-12-04","z":"100m","v":28.72},{"t":"2012-12-06","z":"100m","v":28.96},{"t":"2012-12-12","z":"100m","v":28.98},{"t":"2012-12-18","z":"100m","v":28.90},{"t":"2012-12-22","z":"100m","v":28.55},{"t":"2012-12-28","z":"100m","v":28.50},{"t":"2013-01-02","z":"100m","v":28.55},{"t":"2013-01-03","z":"100m","v":28.78},{"t":"2013-01-05","z":"100m","v":28.48},{"t":"2013-01-15","z":"100m","v":28.55},{"t":"2013-02-01","z":"100m","v":28.65},{"t":"2013-02-15","z":"100m","v":28.72},{"t":"2013-03-01","z":"100m","v":28.80},{"t":"2013-03-15","z":"100m","v":28.85},{"t":"2013-04-01","z":"100m","v":28.88},{"t":"2013-04-14","z":"100m","v":28.90},
{"t":"2012-01-01","z":"250m","v":29.09},{"t":"2012-03-01","z":"250m","v":29.07},{"t":"2012-06-01","z":"250m","v":29.10},{"t":"2012-09-01","z":"250m","v":29.10},{"t":"2012-12-01","z":"250m","v":29.11},{"t":"2013-02-01","z":"250m","v":29.10},{"t":"2013-04-14","z":"250m","v":29.11},
{"t":"2012-01-01","z":"400m","v":29.05},{"t":"2012-02-01","z":"400m","v":29.03},{"t":"2012-04-01","z":"400m","v":29.06},{"t":"2012-07-01","z":"400m","v":29.07},{"t":"2012-10-01","z":"400m","v":29.07},{"t":"2013-01-01","z":"400m","v":29.08},{"t":"2013-04-14","z":"400m","v":29.08}
]
},
"vconcat": [
{
  "title": "Temperature",
  "width": 1212, "height": 127,
  "data": {"name": "T"},
  "mark": {"type": "line", "strokeWidth": 1.25, "clip": true},
  "encoding": {
    "x": {"field": "t", "type": "temporal",
      "scale": {"type": "utc", "domain": [{"year": 2012, "month": 1, "date": 1, "utc": true}, {"year": 2013, "month": 5, "date": 10, "utc": true}]},
      "axis": {"title": null, "format": "%b %Y", "labelFlush": false, "labelOverlap": false, "labelBound": false,
        "values": [{"year": 2012, "month": 1, "date": 1, "utc": true}, {"year": 2012, "month": 4, "date": 1, "utc": true}, {"year": 2012, "month": 7, "date": 1, "utc": true}, {"year": 2012, "month": 10, "date": 1, "utc": true}, {"year": 2013, "month": 1, "date": 1, "utc": true}, {"year": 2013, "month": 4, "date": 1, "utc": true}]}},
    "y": {"field": "v", "type": "quantitative", "scale": {"domain": [11, 30], "nice": false, "zero": false}, "axis": {"title": "°C", "values": [15, 20, 25, 30], "format": "~g"}},
    "color": {"field": "z", "type": "nominal", "scale": {"domain": ["20m", "50m", "75m", "100m", "250m", "400m"], "range": ["#1f8f1f", "#f01818", "#22bfbf", "#c13cd0", "#d9c323", "#606060"]}, "legend": null}
  }
},
{
  "title": "Salinity",
  "width": 1212, "height": 127,
  "data": {"name": "S"},
  "mark": {"type": "line", "strokeWidth": 1.25, "clip": true},
  "encoding": {
    "x": {"field": "t", "type": "temporal",
      "scale": {"type": "utc", "domain": [{"year": 2012, "month": 1, "date": 1, "utc": true}, {"year": 2013, "month": 5, "date": 10, "utc": true}]},
      "axis": {"title": null, "labelExpr": "utcFormat(datum.value, '%Y%m') == '201301' ? 'Jan 2012' : utcFormat(datum.value, '%b %Y')", "labelFlush": false, "labelOverlap": false, "labelBound": false,
        "values": [{"year": 2012, "month": 1, "date": 1, "utc": true}, {"year": 2012, "month": 4, "date": 1, "utc": true}, {"year": 2012, "month": 7, "date": 1, "utc": true}, {"year": 2012, "month": 10, "date": 1, "utc": true}, {"year": 2013, "month": 1, "date": 1, "utc": true}, {"year": 2013, "month": 4, "date": 1, "utc": true}]}},
    "y": {"field": "v", "type": "quantitative", "scale": {"domain": [38.1, 40], "nice": false, "zero": false}, "axis": {"title": "PSU", "values": [38.5, 39, 39.5, 40], "format": "~g"}},
    "color": {"field": "z", "type": "nominal", "scale": {"domain": ["20m", "50m", "75m", "100m", "250m", "400m"], "range": ["#1f8f1f", "#f01818", "#22bfbf", "#c13cd0", "#d9c323", "#606060"]},
      "legend": {"title": "Depths", "orient": "none", "legendX": 1223, "legendY": 18, "strokeColor": "#555555", "fillColor": "white", "padding": 8, "titleFontSize": 13, "titleFontWeight": "normal", "titleColor": "#333333", "titleFont": "Liberation Sans", "titleAnchor": "end", "labelFontSize": 13, "labelColor": "#333333", "labelFont": "Liberation Sans", "labelAlign": "left", "symbolType": "stroke", "symbolSize": 2209, "symbolStrokeWidth": 1.5, "clipHeight": 18, "labelOffset": 5, "rowPadding": 3}}
  }
},
{
  "title": "potential density σθ",
  "width": 1212, "height": 130,
  "data": {"name": "D"},
  "mark": {"type": "line", "strokeWidth": 1.25, "clip": true},
  "encoding": {
    "x": {"field": "t", "type": "temporal",
      "scale": {"type": "utc", "domain": [{"year": 2012, "month": 1, "date": 1, "utc": true}, {"year": 2013, "month": 5, "date": 10, "utc": true}]},
      "axis": {"title": "Date", "titlePadding": 6, "labelExpr": "utcFormat(datum.value, '%Y%m') == '201301' ? 'Jan 2012' : utcFormat(datum.value, '%b %Y')", "labelFlush": false, "labelOverlap": false, "labelBound": false,
        "values": [{"year": 2012, "month": 1, "date": 1, "utc": true}, {"year": 2012, "month": 4, "date": 1, "utc": true}, {"year": 2012, "month": 7, "date": 1, "utc": true}, {"year": 2012, "month": 10, "date": 1, "utc": true}, {"year": 2013, "month": 1, "date": 1, "utc": true}, {"year": 2013, "month": 4, "date": 1, "utc": true}]}},
    "y": {"field": "v", "type": "quantitative", "scale": {"domain": [25.1, 30], "nice": false, "zero": false}, "axis": {"title": "kg/m³", "values": [26, 27, 28, 29, 30], "format": "~g"}},
    "color": {"field": "z", "type": "nominal", "scale": {"domain": ["20m", "50m", "75m", "100m", "250m", "400m"], "range": ["#1f8f1f", "#f01818", "#22bfbf", "#c13cd0", "#d9c323", "#606060"]}, "legend": null}
  }
}
]
}
